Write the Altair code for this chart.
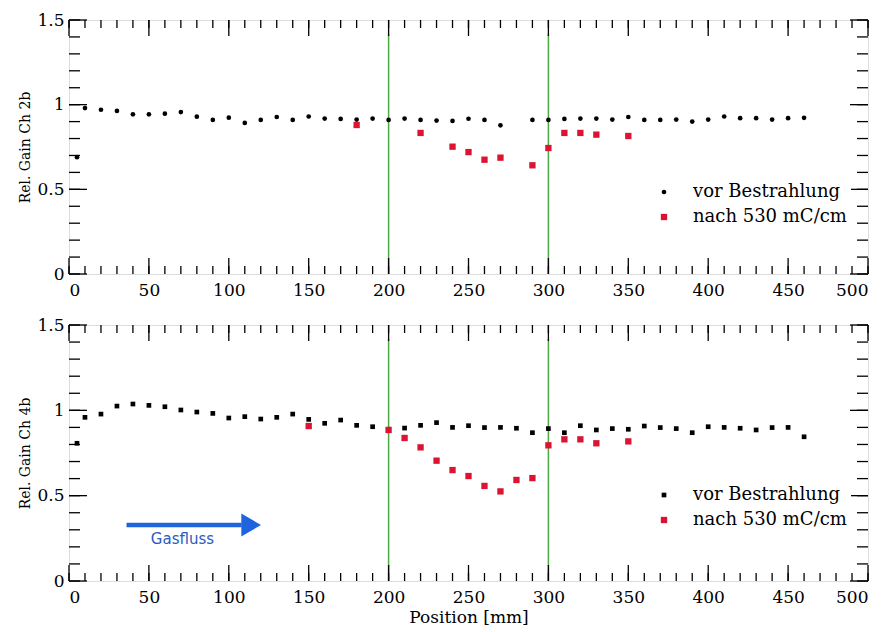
import altair as alt
import pandas as pd

# ---------------- data ----------------
SERIES = ["vor Bestrahlung", "nach 530 mC/cm"]

top_vor_x = [5, 10, 20, 30, 40, 50, 60, 70, 80, 90, 100, 110, 120, 130, 140, 150, 160, 170, 180, 190,
             200, 210, 220, 230, 240, 250, 260, 270, 290, 300, 310, 320, 330, 340, 350, 360, 370, 380,
             390, 400, 410, 420, 430, 440, 450, 460]
top_vor_y = [0.69, 0.98, 0.97, 0.963, 0.943, 0.943, 0.947, 0.956, 0.929, 0.91, 0.923, 0.892, 0.91, 0.927,
             0.91, 0.93, 0.918, 0.916, 0.912, 0.918, 0.91, 0.918, 0.91, 0.906, 0.904, 0.917, 0.91, 0.878,
             0.91, 0.91, 0.916, 0.918, 0.918, 0.912, 0.927, 0.91, 0.91, 0.912, 0.9, 0.912, 0.93, 0.92,
             0.92, 0.912, 0.92, 0.922]
top_nach_x = [180, 220, 240, 250, 260, 270, 290, 300, 310, 320, 330, 350]
top_nach_y = [0.88, 0.833, 0.752, 0.72, 0.675, 0.687, 0.642, 0.744, 0.833, 0.833, 0.823, 0.815]

bot_vor_x = [5, 10, 20, 30, 40, 50, 60, 70, 80, 90, 100, 110, 120, 130, 140, 150, 160, 170, 180, 190,
             200, 210, 220, 230, 240, 250, 260, 270, 280, 290, 300, 310, 320, 330, 340, 350, 360, 370,
             380, 390, 400, 410, 420, 430, 440, 450, 460]
bot_vor_y = [0.807, 0.959, 0.978, 1.025, 1.037, 1.029, 1.021, 1.002, 0.99, 0.982, 0.955, 0.963, 0.949,
             0.959, 0.978, 0.947, 0.924, 0.943, 0.912, 0.904, 0.889, 0.896, 0.912, 0.928, 0.9, 0.91,
             0.899, 0.9, 0.895, 0.869, 0.893, 0.869, 0.91, 0.885, 0.893, 0.889, 0.908, 0.899, 0.893,
             0.869, 0.904, 0.9, 0.895, 0.885, 0.899, 0.9, 0.845]
bot_nach_x = [150, 200, 210, 220, 230, 240, 250, 260, 270, 280, 290, 300, 310, 320, 330, 350]
bot_nach_y = [0.908, 0.885, 0.838, 0.783, 0.705, 0.65, 0.615, 0.557, 0.525, 0.592, 0.603, 0.795,
              0.83, 0.83, 0.807, 0.818]

vline_x = [200, 300]
vline_y = [0.0, 1.42]

x_labels = [0, 50, 100, 150, 200, 250, 300, 350, 400, 450, 500]
x_minor = list(range(0, 501, 10))
y_labels = [0, 0.5, 1, 1.5]
y_minor = [round(i * 0.1, 1) for i in range(16)]

arrow_x = [36, 108]
arrow_head_x = 114
arrow_y = 0.328
gas_text_x = 71
gas_text_y = 0.246

# ---------------- style ----------------
W = 799
SERIF = "DejaVu Serif"
RED = "#dc1432"
GREEN = "#4fa843"
BLUE = "#1f64dc"


def panel(vx, vy, nx, ny, ytitle, h, shapes, legend_y, show_xtitle, arrow=False):
    df = pd.concat([
        pd.DataFrame({"pos": vx, "gain": vy, "series": SERIES[0]}),
        pd.DataFrame({"pos": nx, "gain": ny, "series": SERIES[1]}),
    ])
    xscale = alt.Scale(domain=[0, 500], nice=False, zero=False)
    yscale = alt.Scale(domain=[0, 1.5], nice=False, zero=False)
    xaxis = alt.Axis(values=x_labels, ticks=False, domain=False, grid=False, labelFont=SERIF,
                     labelFontSize=17, labelColor="black", labelPadding=8, labelOverlap=False,
                     title="Position [mm]" if show_xtitle else None, titleFont=SERIF,
                     titleFontSize=17, titleFontWeight="normal", titleColor="black", titlePadding=4)
    yaxis = alt.Axis(values=y_labels, format="~g", ticks=False, domain=False, grid=False,
                     labelFont=SERIF, labelFontSize=17, labelColor="black", labelPadding=5,
                     title=ytitle, titleFont=SERIF, titleFontSize=14, titleFontWeight="normal",
                     titleColor="black", titlePadding=4)

    legend = alt.Legend(title=None, orient="none", legendX=582, legendY=legend_y,
                        labelFont=SERIF, labelFontSize=18, labelColor="black",
                        labelOffset=20, rowPadding=7, fillColor="white", padding=4,
                        symbolStrokeWidth=0)

    pts = alt.Chart(df).mark_point(filled=True, opacity=1).encode(
        x=alt.X("pos:Q", scale=xscale, axis=xaxis),
        y=alt.Y("gain:Q", scale=yscale, axis=yaxis),
        color=alt.Color("series:N", scale=alt.Scale(domain=SERIES, range=["black", RED]), legend=legend),
        shape=alt.Shape("series:N", scale=alt.Scale(domain=SERIES, range=shapes), legend=legend),
        size=alt.Size("series:N", scale=alt.Scale(domain=SERIES, range=[22, 40]), legend=legend),
    )

    vl = alt.Chart(pd.DataFrame({"x": vline_x, "y0": vline_y[0], "y1": vline_y[1]})).mark_rule(
        color=GREEN, strokeWidth=1.5).encode(x="x:Q", y="y0:Q", y2="y1:Q")

    # inside ticks (ROOT style) on all four sides
    xmaj = pd.DataFrame({"v": x_labels})
    xmin = pd.DataFrame({"v": x_minor})
    ymaj = pd.DataFrame({"v": y_labels})
    ymin = pd.DataFrame({"v": y_minor})
    tk = dict(color="black", strokeWidth=1.3)
    ticks = [
        alt.Chart(xmaj).mark_rule(**tk).encode(x="v:Q", y=alt.value(0), y2=alt.value(16)),
        alt.Chart(xmaj).mark_rule(**tk).encode(x="v:Q", y=alt.value(h), y2=alt.value(h - 16)),
        alt.Chart(xmin).mark_rule(**tk).encode(x="v:Q", y=alt.value(0), y2=alt.value(8)),
        alt.Chart(xmin).mark_rule(**tk).encode(x="v:Q", y=alt.value(h), y2=alt.value(h - 8)),
        alt.Chart(ymaj).mark_rule(**tk).encode(y="v:Q", x=alt.value(0), x2=alt.value(18)),
        alt.Chart(ymaj).mark_rule(**tk).encode(y="v:Q", x=alt.value(W), x2=alt.value(W - 18)),
        alt.Chart(ymin).mark_rule(**tk).encode(y="v:Q", x=alt.value(0), x2=alt.value(11)),
        alt.Chart(ymin).mark_rule(**tk).encode(y="v:Q", x=alt.value(W), x2=alt.value(W - 11)),
    ]

    layers = [vl] + ticks + [pts]
    if arrow:
        ar = pd.DataFrame({"x": [arrow_x[0]], "x2": [arrow_x[1]], "y": [arrow_y]})
        shaft = alt.Chart(ar).mark_rule(color=BLUE, strokeWidth=4.5).encode(x="x:Q", x2="x2:Q", y="y:Q")
        head = alt.Chart(pd.DataFrame({"x": [arrow_head_x], "y": [arrow_y]})).mark_point(
            shape="triangle-right", filled=True, color=BLUE, size=520, opacity=1).encode(x="x:Q", y="y:Q")
        txt = alt.Chart(pd.DataFrame({"x": [gas_text_x], "y": [gas_text_y], "t": ["Gasfluss"]})).mark_text(
            font="DejaVu Sans", fontSize=15, color="#2a5cc0", align="center", baseline="middle"
        ).encode(x="x:Q", y="y:Q", text="t:N")
        layers += [shaft, head, txt]

    return alt.layer(*layers).properties(width=W, height=h)


top = panel(top_vor_x, top_vor_y, top_nach_x, top_nach_y, "Rel. Gain Ch 2b", 254,
            ["circle", "square"], 159, False)
bot = panel(bot_vor_x, bot_vor_y, bot_nach_x, bot_nach_y, "Rel. Gain Ch 4b", 256,
            ["square", "square"], 157, True, arrow=True)

chart = alt.vconcat(top, bot, spacing=16).resolve_scale(
    shape="independent", color="independent", size="independent"
).resolve_legend(color="independent", shape="independent", size="independent").properties(
    padding={"left": 10, "top": 2, "right": 2, "bottom": 2}
).configure_view(
    stroke="black", strokeWidth=1.5
).configure(background="white")

chart.save("out.html", embed_options={"renderer": "svg", "actions": False})
